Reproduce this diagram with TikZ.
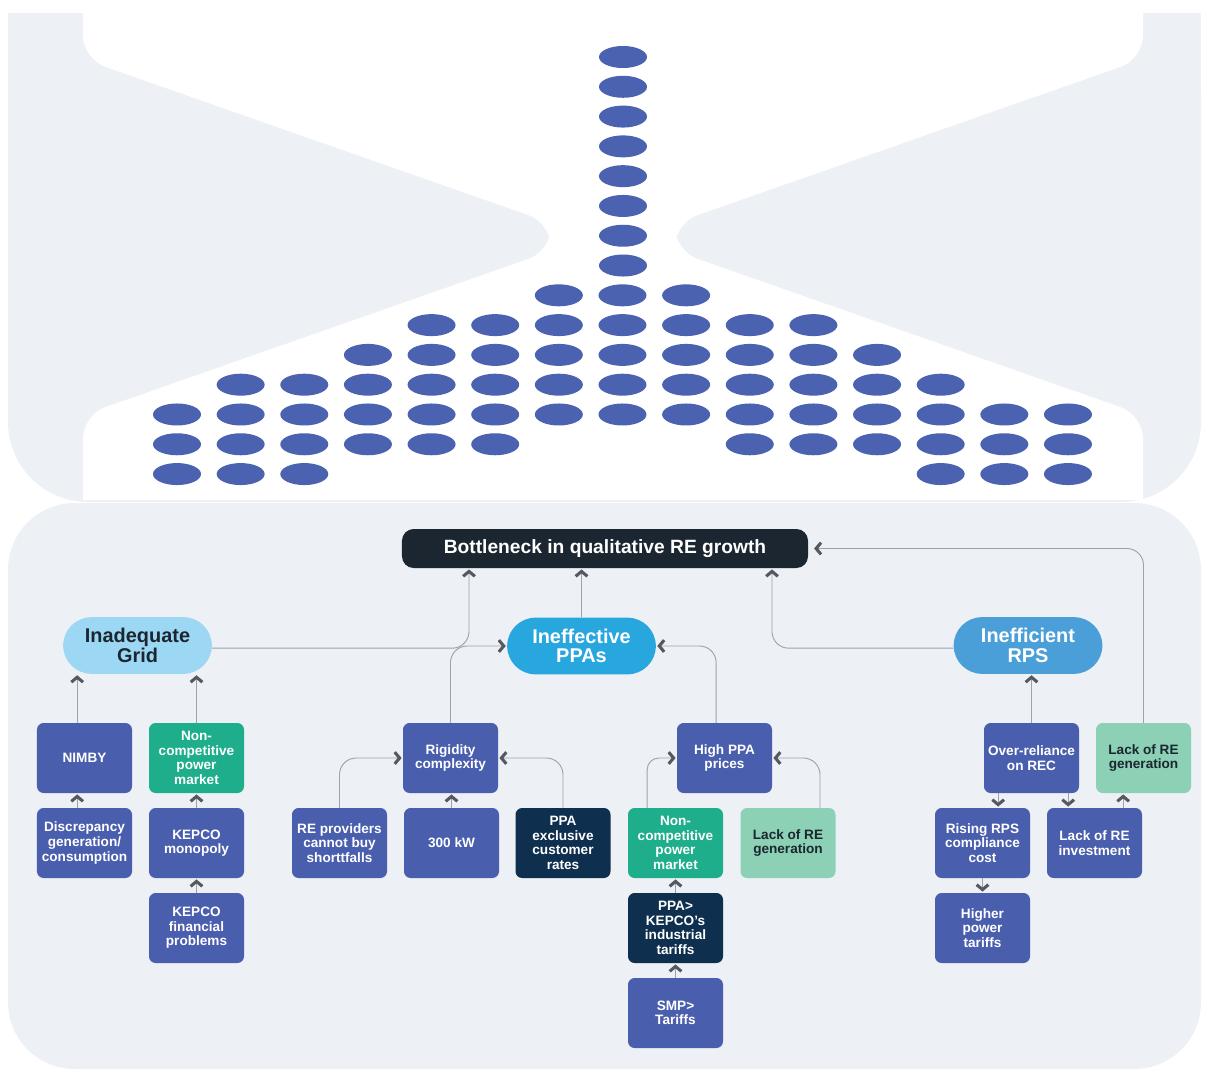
\documentclass[tikz,border=0pt]{standalone}
\usepackage{fontspec}
\setmainfont{Liberation Sans}
\usetikzlibrary{arrows.meta,positioning}
\definecolor{panel}{HTML}{EDF0F5}
\definecolor{sand}{HTML}{4A62B0}
\definecolor{boxblue}{HTML}{4A5EAE}
\definecolor{mktgreen}{HTML}{1FAE8B}
\definecolor{palegreen}{HTML}{8CD0B5}
\definecolor{navy}{HTML}{0F2F4F}
\definecolor{ink}{HTML}{1B2630}
\definecolor{gridblue}{HTML}{9CD8F4}
\definecolor{ppablue}{HTML}{28A7DF}
\definecolor{rpsblue}{HTML}{4A9FD9}
\definecolor{wire}{HTML}{9EA3AA}
\definecolor{tipgray}{HTML}{55595F}
\tikzset{cause/.style={fill=boxblue,text=white,rounded corners=0.2cm,align=center,
 font=\fontsize{11.6}{12.4}\selectfont\bfseries,inner sep=2pt,minimum width=2.85cm,minimum height=2.1cm},
 market/.style={cause,fill=mktgreen},
 lackgen/.style={cause,fill=palegreen,text=ink},
 tariff/.style={cause,fill=navy},
 pill/.style={rounded corners=0.85cm,align=center,font=\fontsize{17}{16.7}\selectfont\bfseries,
 minimum width=4.46cm,minimum height=1.7cm,inner sep=2pt},
 link/.style={-{Straight Barb[length=4.2pt,width=10pt,line width=2.6pt,color=tipgray]},draw=wire,line width=0.8pt,shorten >=1pt},
 elbow/.style={link,rounded corners=0.5cm}}

\begin{document}
\begin{tikzpicture}[x=0.03cm,y=-0.03cm]
\useasboundingbox (0,0) rectangle (1209,1070);
% hourglass
\fill[panel,rounded corners=2.4cm] (8,13) rectangle (1201,502);
\fill[panel] (8,13) rectangle (1201,120);
\fill[white,rounded corners=0.7cm] (83,-20) -- (83,59) -- (551,223) -- (551,251) -- (83,415) -- (83,480)
 -- (1143,480) -- (1143,415) -- (675,251) -- (675,223) -- (1143,59) -- (1143,-20) -- cycle;
\fill[white] (83,440) rectangle (1143,500);
\fill[panel,rounded corners=2cm] (8,503) rectangle (1201,1069);
\foreach \r in {0,...,7} \fill[sand] (623,57+29.79*\r) ellipse [x radius=0.72cm,y radius=0.33cm];
\foreach \r/\a/\b in {8/6/8,9/4/10,10/3/11,11/1/12,12/0/14,13/0/5,13/9/14,14/0/2,14/12/14}
 \foreach \c in {\a,...,\b} \fill[sand] (177+63.64*\c,57+29.79*\r) ellipse [x radius=0.72cm,y radius=0.33cm];

% top levels
\node[fill=ink,text=white,rounded corners=0.35cm,minimum width=12.18cm,minimum height=1.17cm,
 font=\fontsize{16.4}{18}\selectfont\bfseries] (bott) at (605,548.5) {Bottleneck in qualitative RE growth};
\node[pill,fill=gridblue,text=ink] (grid) at (137.5,645.5) {Inadequate\\Grid};
\node[pill,fill=ppablue,text=white] (ppas) at (581.5,646) {Ineffective\\PPAs};
\node[pill,fill=rpsblue,text=white] (rps) at (1028,645.5) {Inefficient\\RPS};

% grid causes
\node[cause] (nimby) at (84.5,758) {NIMBY};
\node[market] (ncgrid) at (196.5,758) {Non-\\competitive\\power\\market};
\node[cause] (disc) at (84.5,843) {Discrepancy\\generation/\\consumption};
\node[cause] (kmono) at (196.5,843) {KEPCO\\monopoly};
\node[cause] (kfin) at (196.5,928) {KEPCO\\financial\\problems};

% ppa causes
\node[cause] (rigid) at (450.5,758) {Rigidity\\complexity};
\node[cause] (reprov) at (339.5,843) {RE providers\\cannot buy\\shorttfalls};
\node[cause] (kw) at (451.5,843) {300 kW};
\node[tariff] (excl) at (563,843) {PPA\\exclusive\\customer\\rates};
\node[cause] (high) at (724.5,758) {High PPA\\prices};
\node[market] (ncppa) at (675.5,843) {Non-\\competitive\\power\\market};
\node[lackgen] (lackppa) at (788,843) {Lack of RE\\generation};
\node[tariff] (kepco) at (675.5,928) {PPA>\\KEPCO's\\industrial\\tariffs};
\node[cause] (smp) at (675.5,1013) {SMP>\\Tariffs};

% rps causes
\node[cause] (over) at (1031.5,758) {Over-reliance\\on REC};
\node[lackgen] (lackrps) at (1143.5,758) {Lack of RE\\generation};
\node[cause] (rising) at (982.5,843) {Rising RPS\\compliance\\cost};
\node[cause] (invest) at (1094.5,843) {Lack of RE\\investment};
\node[cause] (higher) at (982.5,928) {Higher\\power\\tariffs};

% links to the bottleneck
\draw[elbow] ([yshift=-0.08cm]grid.east) -| ([xshift=-4.08cm]bott.south);
\draw[link] (ppas.north) -- (ppas.north |- bott.south);
\draw[elbow] ([yshift=-0.08cm]rps.west) -| ([xshift=5.01cm]bott.south);
\draw[elbow,shorten >=5pt] (lackrps.north) |- (bott.east);

% grid links
\draw[link] ([xshift=-0.22cm]nimby.north) -- ([xshift=-0.22cm]nimby.north |- grid.south);
\draw[link] (ncgrid.north) -- (ncgrid.north |- grid.south);
\draw[link] ([xshift=-0.22cm]disc.north) -- ([xshift=-0.22cm]nimby.south);
\draw[link] (kmono) -- (ncgrid);
\draw[link] (kfin) -- (kmono);

% ppa links
\draw[elbow] (rigid.north) |- (ppas.west);
\draw[elbow] ([xshift=-0.25cm]high.north) |- (ppas.east);
\draw[elbow] (reprov.north) |- (rigid.west);
\draw[link] (kw.north) -- (kw.north |- rigid.south);
\draw[elbow] (excl.north) |- (rigid.east);
\draw[elbow,rounded corners=0.35cm] ([xshift=-0.85cm]ncppa.north) |- (high.west);
\draw[elbow] ([xshift=0.96cm]lackppa.north) |- (high.east);
\draw[link] (kepco) -- (ncppa);
\draw[link] (smp) -- (kepco);

% rps links
\draw[link] (over.north) -- (over.north |- rps.south);
\draw[link] ([xshift=-1cm]over.south) -- ([xshift=-1cm]over.south |- rising.north);
\draw[link] ([xshift=1.1cm]over.south) -- ([xshift=1.1cm]over.south |- invest.north);
\draw[link] ([xshift=0.86cm]invest.north) -- ([xshift=0.86cm]invest.north |- lackrps.south);
\draw[link] (rising) -- (higher);
\end{tikzpicture}
\end{document}
